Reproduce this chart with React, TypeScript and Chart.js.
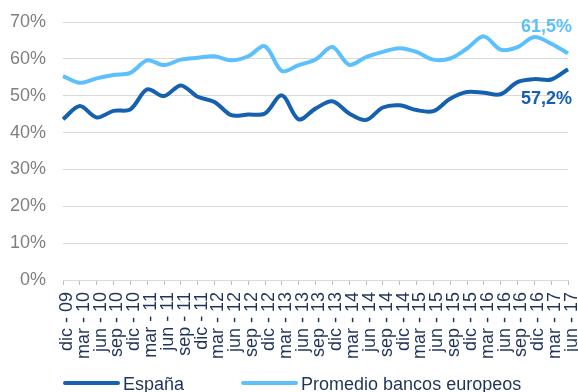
import React, { useEffect, useRef } from "react";
import { Chart, registerables } from "chart.js";

Chart.register(...registerables);

// Quarter labels, Dec 2009 to Jun 2017
const quarters: string[] = [
  "dic - 09", "mar - 10", "jun - 10", "sep - 10", "dic - 10",
  "mar - 11", "jun - 11", "sep - 11", "dic - 11",
  "mar - 12", "jun - 12", "sep - 12", "dic - 12",
  "mar - 13", "jun - 13", "sep - 13", "dic - 13",
  "mar - 14", "jun - 14", "sep - 14", "dic - 14",
  "mar - 15", "jun - 15", "sep - 15", "dic - 15",
  "mar - 16", "jun - 16", "sep - 16", "dic - 16",
  "mar - 17", "jun - 17",
];

// Ratio (%) per quarter
const espana: number[] = [
  43.6, 47.2, 44.1, 45.9, 46.3, 51.7, 49.9, 52.8, 49.7, 48.3,
  44.7, 44.9, 45.2, 50.1, 43.6, 46.5, 48.5, 45.2, 43.4, 46.8,
  47.4, 46.1, 45.8, 49.2, 51.0, 50.8, 50.4, 53.7, 54.5, 54.4, 57.2,
];

const promedioEuropeo: number[] = [
  55.3, 53.5, 54.7, 55.6, 56.2, 59.6, 58.3, 59.8, 60.3, 60.7,
  59.6, 60.7, 63.4, 56.7, 58.3, 59.8, 63.2, 58.4, 60.5, 61.9,
  62.9, 61.9, 59.8, 60.1, 62.8, 66.1, 62.5, 63.2, 65.9, 64.1, 61.5,
];

const yTicks: number[] = [0, 10, 20, 30, 40, 50, 60, 70];

const seriesNames: string[] = ["España", "Promedio bancos europeos"];

const DARK = "#1561B0";
const LIGHT = "#5CC0FC";
const NAVY = "#1F3458";
const FONT = "'Liberation Sans', Arial, sans-serif";

const fmt = (v: number) => v.toFixed(1).replace(".", ",") + "%";

// Writes the final value next to the last point of each series
const endLabels = {
  id: "endLabels",
  afterDatasetsDraw(chart: any, _args: any, opts: any) {
    const ctx = chart.ctx;
    chart.data.datasets.forEach((ds: any, i: number) => {
      const meta = chart.getDatasetMeta(i);
      const pt = meta.data[meta.data.length - 1];
      if (!pt) return;
      const v = ds.data[ds.data.length - 1];
      ctx.save();
      ctx.font = `bold 18px ${FONT}`;
      ctx.fillStyle = ds.borderColor;
      ctx.textAlign = "right";
      ctx.textBaseline = "middle";
      ctx.fillText(fmt(v), pt.x + 4, pt.y + opts.dy[i]);
      ctx.restore();
    });
  },
};

// Legend row under the axis labels
const lineLegend = {
  id: "lineLegend",
  afterDraw(chart: any) {
    const ctx = chart.ctx;
    const { left } = chart.chartArea;
    let x = left + 2;
    const lineY = 383;
    const textY = 390;
    ctx.save();
    ctx.font = `18px ${FONT}`;
    chart.data.datasets.forEach((ds: any) => {
      ctx.strokeStyle = ds.borderColor;
      ctx.lineWidth = 4;
      ctx.lineCap = "round";
      ctx.beginPath();
      ctx.moveTo(x, lineY);
      ctx.lineTo(x + 53, lineY);
      ctx.stroke();
      ctx.fillStyle = NAVY;
      ctx.textAlign = "left";
      ctx.textBaseline = "alphabetic";
      ctx.fillText(ds.label, x + 58, textY);
      x += 58 + ctx.measureText(ds.label).width + 59;
    });
    ctx.restore();
  },
};

export default function App() {
  const ref = useRef<HTMLCanvasElement | null>(null);

  useEffect(() => {
    if (!ref.current) return;
    const chart = new Chart(ref.current, {
      type: "line",
      data: {
        labels: quarters,
        datasets: [
          {
            label: seriesNames[0],
            data: espana,
            borderColor: DARK,
            backgroundColor: DARK,
            borderWidth: 4,
            tension: 0.33,
            pointRadius: 0,
            fill: false,
          },
          {
            label: seriesNames[1],
            data: promedioEuropeo,
            borderColor: LIGHT,
            backgroundColor: LIGHT,
            borderWidth: 4,
            tension: 0.33,
            pointRadius: 0,
            fill: false,
          },
        ],
      },
      options: {
        responsive: false,
        animation: false,
        devicePixelRatio: 1,
        layout: { padding: { top: 22, right: 10, bottom: 0, left: 0 } },
        plugins: {
          legend: { display: false },
          tooltip: { enabled: false },
          endLabels: { dy: [30, -26] },
        } as any,
        scales: {
          x: {
            offset: false,
            grid: {
              display: true,
              drawOnChartArea: false,
              drawTicks: true,
              tickLength: 5,
              color: "#bfbfbf",
            },
            border: { display: true, color: "#d9d9d9" },
            ticks: {
              autoSkip: false,
              maxRotation: 90,
              minRotation: 90,
              padding: 7,
              labelOffset: 4,
              color: NAVY,
              font: { size: 18, family: FONT },
            },
            afterFit: (s: any) => {
              s.height = 112;
              s.paddingLeft = 0;
              s.paddingRight = 0;
            },
          },
          y: {
            min: yTicks[0],
            max: yTicks[yTicks.length - 1],
            grid: { color: "#d9d9d9", drawTicks: false },
            border: { display: false },
            afterBuildTicks: (s: any) => {
              s.ticks = yTicks.map((v) => ({ value: v }));
            },
            ticks: {
              padding: 17,
              color: "#808080",
              font: { size: 18, family: FONT },
              callback: (v: any) => `${v}%`,
            },
            afterFit: (s: any) => {
              s.width = 63;
              s.paddingTop = 0;
              s.paddingBottom = 0;
            },
          },
        },
      },
      plugins: [endLabels, lineLegend],
    });
    return () => chart.destroy();
  }, []);

  return (
    <div style={{ position: "absolute", left: 0, top: 0, width: 578, height: 392, background: "#fff" }}>
      <canvas ref={ref} width={578} height={392} />
    </div>
  );
}
